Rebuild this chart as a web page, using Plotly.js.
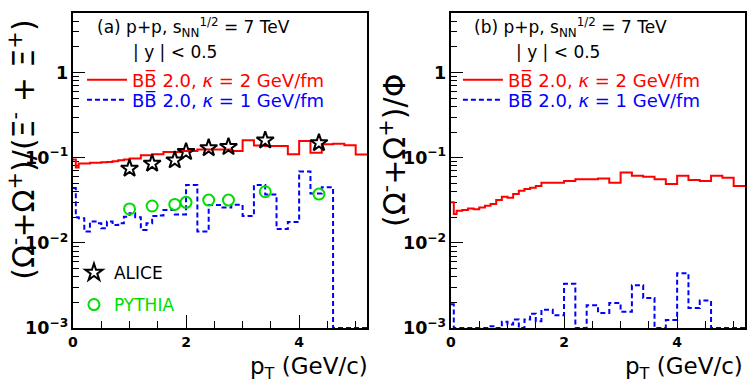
<!DOCTYPE html>
<html>
<head>
<meta charset="utf-8">
<script src="https://cdn.plot.ly/plotly-3.0.1.min.js"></script>
<style>
  html, body { margin: 0; padding: 0; background: #fff; }
  #chart { width: 747px; height: 382px; }
</style>
</head>
<body>
<div id="chart"></div>
<script>
// bin edges of the model histograms (GeV/c)
const binEdges = [0, 0.05, 0.1, 0.2, 0.3, 0.4, 0.5, 0.6, 0.7, 0.8, 0.9, 1.0,
  1.1, 1.2, 1.3, 1.4, 1.5, 1.6, 1.7, 1.8, 1.9, 2.0,
  2.2, 2.4, 2.6, 2.8, 3.0, 3.2, 3.4, 3.6, 3.8, 4.0, 4.2, 4.4, 4.6, 4.8, 5.0, 5.2];

// (a) Omega/Xi, BBbar 2.0
const omegaXiK2 = [0.095, 0.077, 0.0855, 0.0855, 0.087, 0.087, 0.0886, 0.089, 0.091, 0.0935, 0.095,
  0.098, 0.098, 0.107, 0.107, 0.110, 0.110, 0.117, 0.117, 0.117, 0.120,
  0.120, 0.125, 0.125, 0.125, 0.120, 0.160, 0.139, 0.137, 0.137, 0.110, 0.157, 0.114, 0.144, 0.146, 0.140, 0.109];
const omegaXiK1 = [0.044, 0.020, 0.0195, 0.0136, 0.0178, 0.017, 0.0148, 0.0178, 0.0162, 0.017, 0.0203,
  0.0222, 0.020, 0.0142, 0.017, 0.0207, 0.021, 0.0243, 0.0243, 0.0216, 0.0216,
  0.0477, 0.0136, 0.0278, 0.026, 0.028, 0.0207, 0.0477, 0.037, 0.0145, 0.0176, 0.069, 0.038, 0.045, 0, 0, 0];

// (b) Omega/phi, BBbar 2.0
const omegaPhiK2 = [0.030, 0.0218, 0.0239, 0.0243, 0.0254, 0.0248, 0.0261, 0.0273, 0.0286, 0.0318, 0.0348,
  0.0339, 0.0374, 0.0409, 0.0428, 0.0443, 0.0465, 0.0508, 0.0508, 0.0508, 0.0508,
  0.0531, 0.0557, 0.0557, 0.0571, 0.0508, 0.067, 0.0613, 0.0597, 0.0557, 0.049, 0.0613, 0.0546, 0.0531, 0.0613, 0.058, 0.0465];
const omegaPhiK1 = [0.0019, 0, 0, 0, 0, 0, 0, 0, 0.00105, 0, 0.00118,
  0.0011, 0.00126, 0, 0.00126, 0.00147, 0.0012, 0.00164, 0.00164, 0.00141, 0.00141,
  0.0033, 0, 0.00185, 0.0015, 0.00197, 0.00155, 0.00317, 0.00225, 0, 0.00124, 0.0044, 0.00172, 0.0021, 0, 0, 0];

// ALICE data and PYTHIA, panel (a)
const alicePt = [1.0, 1.4, 1.8, 2.0, 2.4, 2.75, 3.4, 4.35];
const aliceRatio = [0.0747, 0.0855, 0.0935, 0.117, 0.130, 0.134, 0.160, 0.149];
const pythiaPt = [1.0, 1.4, 1.8, 2.0, 2.4, 2.75, 3.4, 4.35];
const pythiaRatio = [0.025, 0.0271, 0.0283, 0.0299, 0.0318, 0.0318, 0.0398, 0.0374];

const FONT = "DejaVu Sans";
const RED = "#ff0000";
const BLUE = "#0000ff";
const GREEN = "#00dd00";
const yFloor = 0.001; // empty bins sit on the lower edge, as in ROOT

function stepY(vals) {
  const ys = vals.map(v => (v > 0 ? v : yFloor));
  return ys.concat([ys[ys.length - 1]]);
}

function histo(vals, xa, ya, color, dash, legend, name) {
  return {
    x: binEdges, y: stepY(vals), xaxis: xa, yaxis: ya,
    type: "scatter", mode: "lines", line: { shape: "hv", color: color, width: 2, dash: dash },
    name: name, legend: legend, hoverinfo: "skip"
  };
}

const k2Name = "BB\u0305 2.0, <i>\u03ba</i> = 2 GeV/fm";
const k1Name = "BB\u0305 2.0, <i>\u03ba</i> = 1 GeV/fm";

const traces = [
  histo(omegaXiK2, "x", "y", RED, "solid", "legend", k2Name),
  histo(omegaXiK1, "x", "y", BLUE, "5px,3px", "legend2", k1Name),
  histo(omegaPhiK2, "x2", "y2", RED, "solid", "legend3", k2Name),
  histo(omegaPhiK1, "x2", "y2", BLUE, "5px,3px", "legend4", k1Name),
  {
    x: alicePt, y: aliceRatio, xaxis: "x", yaxis: "y", type: "scatter", mode: "markers",
    marker: { symbol: "star-open", size: 13, color: "black", line: { width: 2, color: "black" } },
    name: "ALICE", legend: "legend5"
  },
  {
    x: pythiaPt, y: pythiaRatio, xaxis: "x", yaxis: "y", type: "scatter", mode: "markers",
    marker: { symbol: "circle-open", size: 11, color: GREEN, line: { width: 2, color: GREEN } },
    name: "PYTHIA", legend: "legend6"
  }
];

function xAxis(domain, anchor) {
  return {
    domain: domain, anchor: anchor, range: [0, 5.2], dtick: 2, tick0: 0,
    ticks: "inside", ticklen: 13, tickwidth: 1, tickcolor: "black",
    minor: { dtick: 0.5, ticks: "inside", ticklen: 7, tickwidth: 1, tickcolor: "black" },
    showline: true, linewidth: 2, linecolor: "black", mirror: true,
    showgrid: false, zeroline: false, layer: "below traces",
    tickfont: { family: FONT, size: 14, color: "black", weight: "bold" }
  };
}

function yAxis(anchor) {
  return {
    domain: [0.1414, 0.966], anchor: anchor, type: "log", range: [-3, 0.7], dtick: 1,
    exponentformat: "power",
    ticks: "inside", ticklen: 12, tickwidth: 1, tickcolor: "black",
    minor: { dtick: "D1", ticks: "inside", ticklen: 6, tickwidth: 1, tickcolor: "black" },
    showline: true, linewidth: 2, linecolor: "black", mirror: true,
    showgrid: false, zeroline: false, layer: "below traces",
    tickfont: { family: FONT, size: 14, color: "black", weight: "bold" }
  };
}

function legendAt(x, y, color, size, itemwidth) {
  return {
    x: x, y: y, xanchor: "left", yanchor: "middle", bgcolor: "rgba(0,0,0,0)",
    borderwidth: 0, itemwidth: itemwidth, itemclick: false,
    font: { family: FONT, size: size, color: color }
  };
}

function note(text, x, y, size, opts) {
  return Object.assign({
    text: text, x: x, y: y, xref: "paper", yref: "paper", showarrow: false,
    xanchor: "left", yanchor: "middle", font: { family: FONT, size: size, color: "black" }
  }, opts || {});
}

const layout = {
  width: 747, height: 382,
  margin: { l: 0, r: 0, t: 0, b: 0 },
  paper_bgcolor: "white", plot_bgcolor: "white",
  showlegend: true,
  xaxis: xAxis([0.0977, 0.4913], "y"),
  yaxis: yAxis("x"),
  xaxis2: xAxis([0.6037, 0.9973], "y2"),
  yaxis2: yAxis("x2"),
  legend: legendAt(0.1098, 0.7906, RED, 18, 40),
  legend2: legendAt(0.1098, 0.738, BLUE, 18, 40),
  legend3: legendAt(0.613, 0.7906, RED, 18, 40),
  legend4: legendAt(0.613, 0.738, BLUE, 18, 40),
  legend5: legendAt(0.099, 0.2853, "black", 17, 30),
  legend6: legendAt(0.099, 0.2016, GREEN, 17, 30),
  annotations: [
    note("(a) p+p, s<sub>NN</sub><sup>1/2</sup> = 7 TeV", 0.127, 0.929, 17),
    note("| y | < 0.5", 0.175, 0.864, 17),
    note("(b) p+p, s<sub>NN</sub><sup>1/2</sup> = 7 TeV", 0.632, 0.929, 17),
    note("| y | < 0.5", 0.688, 0.864, 17),
    note("(\u03a9<sup>-</sup>+\u03a9<sup>+</sup>)/(\u039e<sup>-</sup> + \u039e<sup>+</sup>)", 0.029, 0.607, 30,
      { textangle: -90, xanchor: "center" }),
    note("(\u03a9<sup>-</sup>+\u03a9<sup>+</sup>)/\u03a6", 0.526, 0.607, 30,
      { textangle: -90, xanchor: "center" }),
    note("p<sub>T</sub> (GeV/c)", 0.495, 0.037, 23, { xanchor: "right" }),
    note("p<sub>T</sub> (GeV/c)", 0.997, 0.037, 23, { xanchor: "right" })
  ]
};

Plotly.newPlot("chart", traces, layout, { staticPlot: true });
</script>
</body>
</html>
